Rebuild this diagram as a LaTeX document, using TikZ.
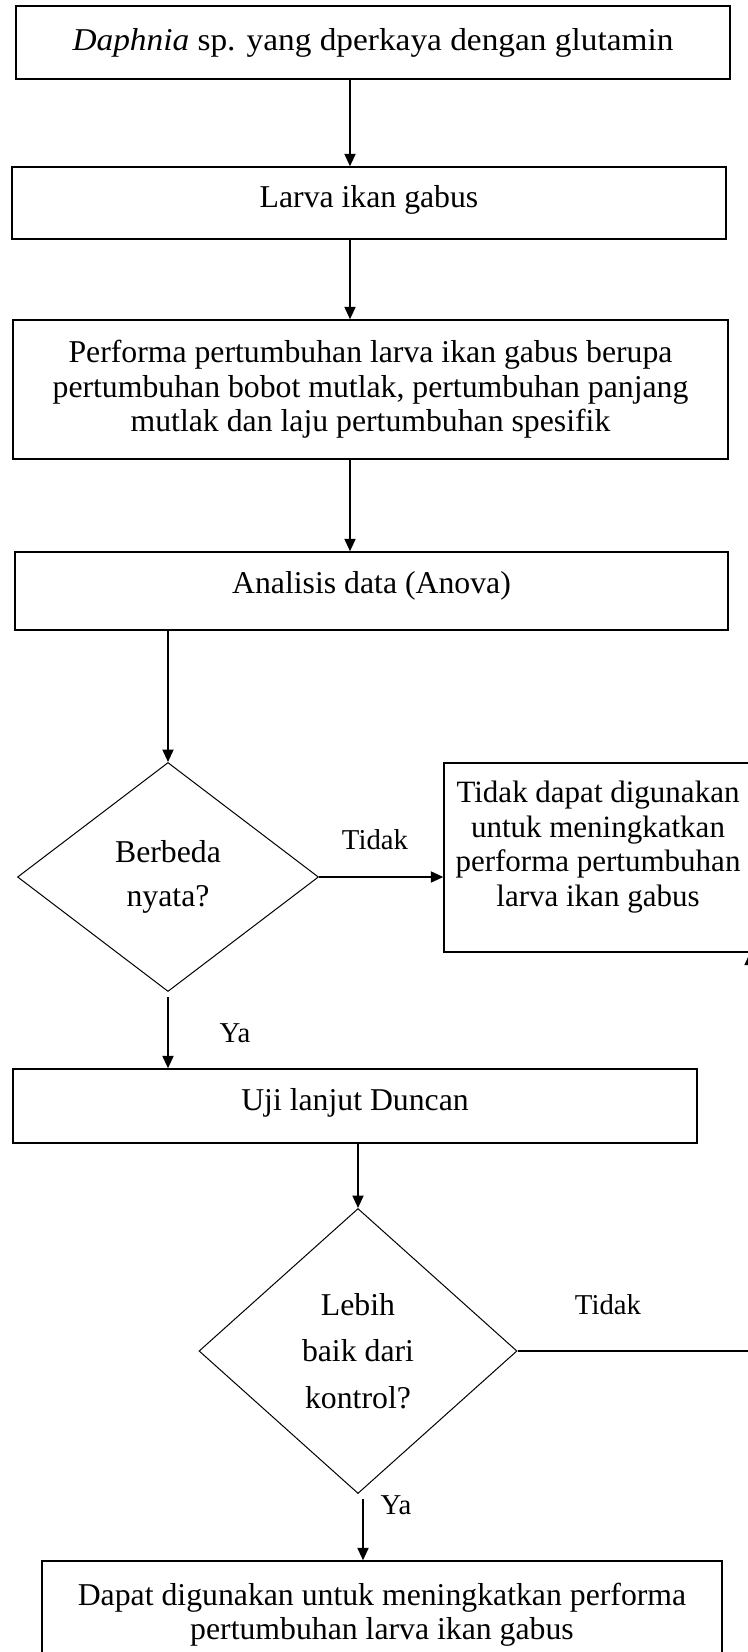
\documentclass[tikz,border=0pt]{standalone}
\usepackage{fontspec}
\setmainfont{Liberation Serif}
\usetikzlibrary{positioning,arrows.meta,shapes.geometric}
\newcommand{\pxu}{0.4pt}

\begin{document}
\begin{tikzpicture}[x=0.4pt,y=-0.4pt,
    font=\fontsize{12.7}{13.8}\selectfont,
    box/.style={draw, line width=0.55pt, align=center, inner sep=0pt},
    decision/.style={draw, diamond, line width=0.4pt, align=center, inner sep=0pt},
    arr/.style={-{Triangle[length=5pt,width=4.4pt]}, line width=0.8pt},
    answer/.style={font=\fontsize{11.5}{13}\selectfont}]
    \useasboundingbox (0,0) rectangle (747,1652);

    % Main column of boxes
    \node[box, minimum width=714*\pxu, minimum height=73*\pxu] (daphnia) at (373,42.5)
        {\scalebox{1.05}[1]{\textit{Daphnia} sp. yang dperkaya dengan glutamin}};
    \node[box, minimum width=714*\pxu, minimum height=72*\pxu, text depth=5pt] (larva) at (369,203)
        {Larva ikan gabus};
    \node[box, minimum width=715*\pxu, minimum height=139*\pxu] (performa) at (370.5,389.5)
        {Performa pertumbuhan larva ikan gabus berupa\\
         pertumbuhan bobot mutlak, pertumbuhan panjang\\
         mutlak dan laju pertumbuhan spesifik};
    \node[box, minimum width=713*\pxu, minimum height=78*\pxu, text depth=7pt] (anova) at (371.5,591)
        {Analisis data (Anova)};

    % First decision
    \node[decision, minimum width=301*\pxu, minimum height=229*\pxu,
          font=\fontsize{12.7}{17.5}\selectfont] (beda) at (168,877)
        {Berbeda\\ nyata?};
    \node[box, minimum width=308*\pxu, minimum height=189*\pxu, text depth=11pt,
          font=\fontsize{12.4}{13.8}\selectfont] (gagal) at (598,857.5)
        {Tidak dapat digunakan\\ untuk meningkatkan\\ performa pertumbuhan\\ larva ikan gabus};

    \node[box, minimum width=684*\pxu, minimum height=74*\pxu, text depth=5pt] (duncan) at (355,1106)
        {Uji lanjut Duncan};

    % Second decision
    \node[decision, minimum width=318*\pxu, minimum height=285*\pxu,
          font=\fontsize{12.7}{18.5}\selectfont] (kontrol) at (358,1351)
        {Lebih\\ baik dari\\ kontrol?};
    \node[box, minimum width=680*\pxu, minimum height=107*\pxu] (dapat) at (382,1614.5)
        {Dapat digunakan untuk meningkatkan performa\\ pertumbuhan larva ikan gabus};

    \coordinate (col) at (350,0);
    \coordinate (turn) at (750,1351);

    % Connectors
    \draw[arr] (daphnia.south -| col) -- (larva.north -| col);
    \draw[arr] (larva.south -| col) -- (performa.north -| col);
    \draw[arr] (performa.south -| col) -- (anova.north -| col);
    \draw[arr] (beda.north |- anova.south) -- (beda.north);
    \draw[arr] (beda.east) -- (beda.east -| gagal.west);
    \draw[arr, shorten <=5*\pxu] (beda.south) -- (beda.south |- duncan.north);
    \draw[arr] (kontrol.north |- duncan.south) -- (kontrol.north);
    \draw[arr, shorten <=5*\pxu] ([xshift=5*\pxu]kontrol.south) -- ([xshift=5*\pxu]kontrol.south |- dapat.north);
    \draw[arr] (kontrol.east) -- (turn) -- (turn |- gagal.south);

    % Answers
    \node[answer] (tidak1) at (375,840) {Tidak};
    \node[answer] (ya1) at (235,1033) {Ya};
    \node[answer] (tidak2) at (608,1305) {Tidak};
    \node[answer] (ya2) at (396,1505) {Ya};
\end{tikzpicture}
\end{document}
